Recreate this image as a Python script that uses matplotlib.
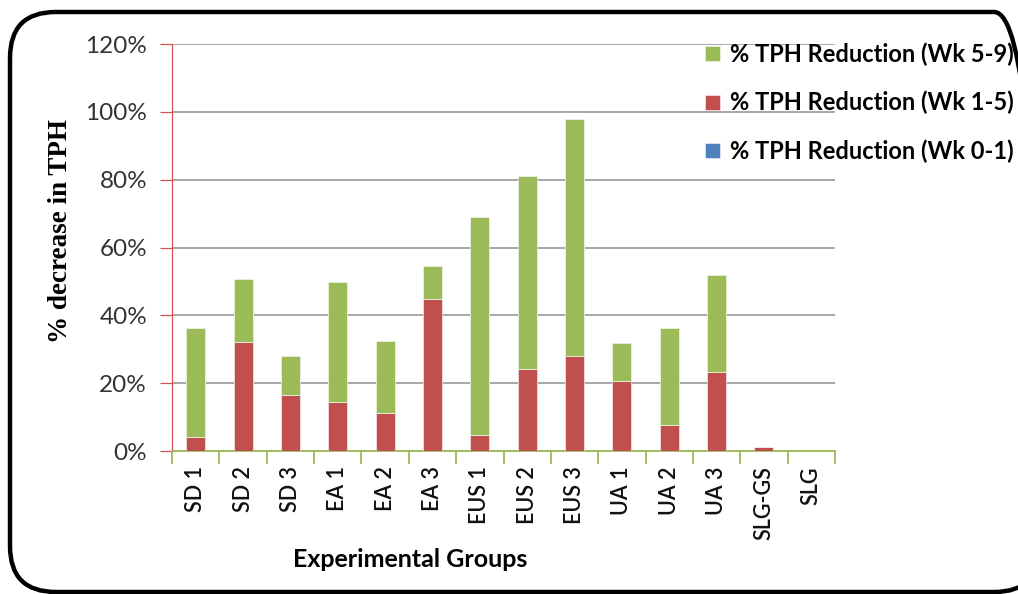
import matplotlib.pyplot as plt
import numpy as np
from matplotlib.patches import FancyBboxPatch
from matplotlib.ticker import PercentFormatter

groups = ['SD 1', 'SD 2', 'SD 3', 'EA 1', 'EA 2', 'EA 3', 'EUS 1', 'EUS 2', 'EUS 3',
          'UA 1', 'UA 2', 'UA 3', 'SLG-GS', 'SLG']
# reduction per period, % (stacked)
wk_0_1 = [0, 0, 0, 0, 0, 0, 0, 0, 0, 0, 0, 0, 0, 0]
wk_1_5 = [4.2, 32.2, 16.5, 14.5, 11.1, 44.8, 4.6, 24.2, 28.0, 20.6, 7.7, 23.4, 1.2, 0]
wk_5_9 = [32.2, 18.6, 11.4, 35.2, 21.4, 9.7, 64.4, 56.8, 69.9, 11.2, 28.7, 28.5, 0, 0]

c_blue = '#4F81BD'
c_red = '#C0504D'
c_green = '#9BBB59'

fig = plt.figure(figsize=(10.18, 5.94), dpi=100)
ax = fig.add_axes([0.169, 0.2407, 0.6512, 0.6852])

x = np.arange(len(groups))
b0 = np.array(wk_0_1)
b1 = b0 + np.array(wk_1_5)
ax.bar(x, wk_0_1, 0.4, color=c_blue, edgecolor='#dce6f2', linewidth=0.6,
       label='% TPH Reduction (Wk 0-1)', zorder=3)
ax.bar(x, wk_1_5, 0.4, bottom=b0, color=c_red, edgecolor='#f2dcdb', linewidth=0.6,
       label='% TPH Reduction (Wk 1-5)', zorder=3)
ax.bar(x, wk_5_9, 0.4, bottom=b1, color=c_green, edgecolor='#ebf1de', linewidth=0.6,
       label='% TPH Reduction (Wk 5-9)', zorder=3)

ax.set_xlim(-0.5, len(groups) - 0.5)
ax.set_ylim(0, 120)
ax.set_yticks(np.arange(0, 121, 20))
ax.yaxis.set_major_formatter(PercentFormatter(decimals=0))
ax.grid(axis='y', color='#a0a0a0', linewidth=1.3, zorder=0)
ax.set_axisbelow(True)

ax.spines['top'].set_visible(False)
ax.spines['right'].set_visible(False)
ax.spines['left'].set_color('#d9534f')
ax.spines['left'].set_linewidth(0.9)
ax.spines['bottom'].set_color(c_green)
ax.spines['bottom'].set_linewidth(1.3)

ax.tick_params(axis='y', colors='#d9534f', length=9, width=0.9, labelcolor='#333333',
               labelsize=17.5, pad=9)
ax.set_xticks(x)
ax.set_xticklabels(groups, rotation=90, fontsize=15.5, color='#111111')
ax.tick_params(axis='x', length=0, pad=11)
ax.set_xticks(np.arange(-0.5, len(groups), 1), minor=True)
ax.tick_params(axis='x', which='minor', length=9, width=1.3, color=c_green)
for lbl in ax.get_yticklabels():
    lbl.set_family('Lato')
for lbl in ax.get_xticklabels():
    lbl.set_family('Lato')
    lbl.set_fontweight('semibold')

ax.set_ylabel('% decrease in TPH', family='Liberation Serif', fontweight='bold',
              fontsize=19.5)
ax.yaxis.set_label_coords(-0.150, 0.54)
ax.set_xlabel('Experimental Groups', family='Lato', fontweight='bold', fontsize=18)
ax.xaxis.set_label_coords(0.359, -0.238)

handles, labels = ax.get_legend_handles_labels()
leg = fig.legend(handles[::-1], labels[::-1], loc='upper left',
                 bbox_to_anchor=(0.672, 0.964), frameon=False,
                 prop={'family': 'Lato', 'weight': 'bold', 'size': 17},
                 handlelength=0.6, handleheight=0.6, handletextpad=0.45,
                 labelspacing=1.05)

frame = FancyBboxPatch((10 / 1018, 2 / 594), 1030 / 1018, 580 / 594,
                       boxstyle='round,pad=0,rounding_size=0.045',
                       transform=fig.transFigure, fill=False,
                       edgecolor='black', linewidth=3.2, mutation_aspect=1018 / 594)
fig.patches.append(frame)

plt.savefig('out.png', dpi=100)
plt.close()
